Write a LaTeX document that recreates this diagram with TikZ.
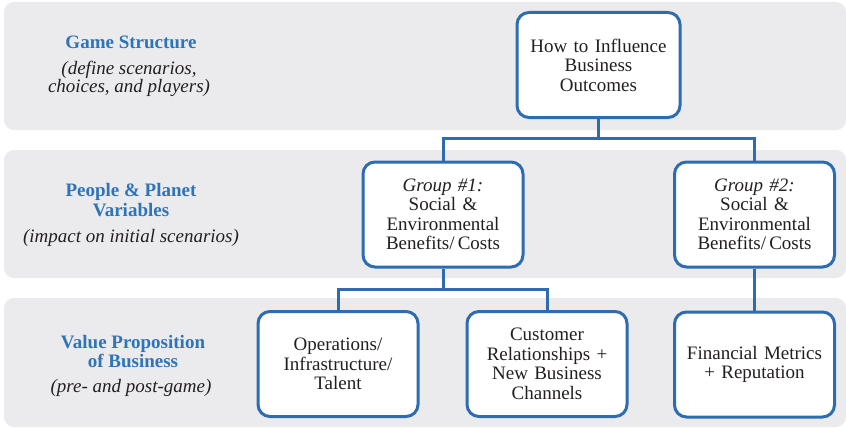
\documentclass[tikz,border=0pt]{standalone}
\usepackage{fontspec}
\setmainfont{Liberation Serif}
\usetikzlibrary{positioning}

\definecolor{bandgray}{RGB}{235,235,238}
\definecolor{boxblue}{RGB}{46,108,178}
\definecolor{titleblue}{RGB}{46,116,182}
\definecolor{inkgray}{RGB}{35,31,32}

\begin{document}
\begin{tikzpicture}[x=1pt, y=-1pt, line cap=butt, line join=miter,
  band/.style={fill=bandgray, rounded corners=10pt},
  box/.style={draw=boxblue, line width=3pt, fill=white, rounded corners=12pt,
    minimum width=160pt, minimum height=105pt, text width=154pt, align=center,
    inner sep=0pt, text=inkgray, font=\fontsize{19}{19.5}\selectfont},
  rowtitle/.style={align=center, text=titleblue, inner sep=0pt,
    font=\fontsize{19}{19.5}\selectfont\bfseries},
  rownote/.style={align=center, text=inkgray, inner sep=0pt,
    font=\fontsize{19}{18.5}\selectfont\itshape},
  link/.style={draw=boxblue, line width=3pt}]

% ----------------------------
% CANVAS AND BANDS
% ----------------------------
\useasboundingbox (0,0) rectangle (846,428);
\path[band] (4,2) rectangle (846,130);
\path[band] (4,150) rectangle (846,278);
\path[band] (4,298) rectangle (846,427);

% ----------------------------
% ROW LABELS
% ----------------------------
\node[rowtitle] (gameT) at (131,42) {Game Structure};
\node[rownote] (gameN) at (129,79) {(define scenarios,\\choices, and players)};

\node[rowtitle] (peopleT) at (131,200) {People \& Planet\\Variables};
\node[rownote] (peopleN) at (131,238) {(impact on initial scenarios)};

\node[rowtitle] (valueT) at (133,351.5) {Value Proposition\\of Business};
\node[rownote] (valueN) at (131,388) {(pre- and post-game)};

% ----------------------------
% BOXES
% ----------------------------
\node[box, minimum width=163pt] (top) at (598.5,65)
  {How to Influence\\Business\\Outcomes};

\node[box] (grpA) at (443,214.5)
  {\textit{Group \#1:}\\Social \&\\Environmental\\Benefits/\,Costs};
\node[box] (grpB) at (754.5,214.5)
  {\textit{Group \#2:}\\Social \&\\Environmental\\Benefits/\,Costs};

\node[box] (ops) at (338,364)
  {Operations/\\Infrastructure/\\Talent};
\node[box] (cust) at (547,364)
  {Customer\\Relationships +\\New Business\\Channels};
\node[box] (fin) at (754.5,364.5)
  {Financial Metrics\\+ Reputation};

% ----------------------------
% CONNECTORS
% ----------------------------
\coordinate (busA) at (598.5,138);
\coordinate (busB) at (443,289);

\draw[link] (top.south) -- (busA);
\draw[link] (grpA.north) |- (busA) -| (grpB.north);

\draw[link] (grpA.south) -- (busB);
\draw[link] (ops.north) |- (busB) -| (cust.north);

\draw[link] (grpB.south) -- (fin.north);

\end{tikzpicture}
\end{document}
